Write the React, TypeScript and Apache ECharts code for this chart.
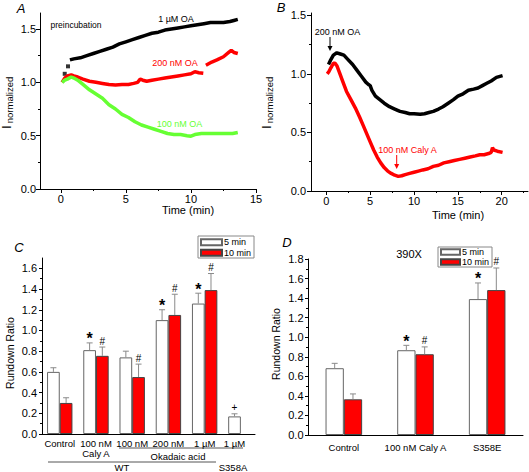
import React, { useEffect, useRef } from 'react';
import * as echarts from 'echarts';

// ---------- Panel A (I normalized vs time, preincubation) ----------
const a1uMOAStart: [number, number][] = [[0.3, 1.08], [0.55, 1.15]];
const a1uMOA: [number, number][] = [
  [0.7, 1.21], [1.0, 1.22], [1.5, 1.23], [2.0, 1.25], [2.5, 1.27], [3.0, 1.29], [3.5, 1.31],
  [4.0, 1.33], [4.5, 1.36], [5.0, 1.38], [5.5, 1.4], [6.0, 1.42], [6.5, 1.44], [7.0, 1.46],
  [7.5, 1.47], [8.0, 1.49], [8.5, 1.5], [9.0, 1.51], [9.5, 1.52], [10.0, 1.53], [10.5, 1.54],
  [11.0, 1.55], [11.5, 1.56], [12.0, 1.56], [12.5, 1.56], [13.0, 1.57], [13.3, 1.58], [13.6, 1.59],
];
const a200nMOA: any[] = [
  [0.1, 1.0], [0.3, 1.04], [0.5, 1.06], [0.8, 1.07], [1.0, 1.06], [1.3, 1.05], [1.7, 1.03],
  [2.2, 1.01], [2.7, 1.0], [3.2, 0.99], [3.7, 0.98], [4.2, 0.975], [4.7, 0.98], [5.2, 0.98],
  [5.6, 0.99], [5.9, 1.0], [6.1, 1.03], [6.3, 1.02], [6.6, 1.01], [7.0, 1.02], [7.5, 1.03],
  [8.0, 1.04], [8.5, 1.05], [9.0, 1.06], [9.5, 1.07], [10.0, 1.08], [10.3, 1.1], [10.6, 1.09],
  [10.95, 1.085], [11.05, '-'], [11.15, 1.16], [11.6, 1.19], [12.0, 1.21], [12.5, 1.24],
  [12.9, 1.28], [13.1, 1.3], [13.3, 1.28], [13.6, 1.27],
];
const a100nMOA: [number, number][] = [
  [0.1, 1.0], [0.3, 1.02], [0.5, 1.03], [0.8, 1.05], [1.0, 1.04], [1.3, 1.02], [1.7, 0.98],
  [2.2, 0.93], [2.7, 0.89], [3.2, 0.85], [3.7, 0.79], [4.2, 0.75], [4.7, 0.7], [5.2, 0.67],
  [5.7, 0.63], [6.2, 0.6], [6.7, 0.58], [7.2, 0.56], [7.7, 0.54], [8.2, 0.52], [8.7, 0.51],
  [9.2, 0.51], [9.7, 0.5], [10.0, 0.495], [10.3, 0.51], [10.8, 0.52], [11.3, 0.52], [11.8, 0.52],
  [12.3, 0.52], [12.8, 0.52], [13.2, 0.52], [13.6, 0.53],
];
const aXTicks = [0, 5, 10, 15];
const aXMinor = [2.5, 7.5, 12.5];
const aYTicks = [0, 0.5, 1.0, 1.5];
const aYMinor = [0.25, 0.75, 1.25];

// ---------- Panel B ----------
const b200nMOA: [number, number][] = [
  [0.25, 1.08], [0.5, 1.12], [0.8, 1.16], [1.2, 1.18], [1.6, 1.17], [2.0, 1.16], [2.5, 1.12],
  [3.0, 1.08], [3.5, 1.03], [4.0, 0.98], [4.5, 0.93], [4.8, 0.91], [5.0, 0.9], [5.2, 0.86],
  [5.6, 0.81], [6.1, 0.78], [6.6, 0.75], [7.2, 0.72], [7.8, 0.7], [8.4, 0.68], [9.0, 0.67],
  [9.5, 0.66], [10.0, 0.66], [10.7, 0.655], [11.2, 0.66], [11.7, 0.67], [12.2, 0.68], [12.8, 0.7],
  [13.3, 0.72], [13.9, 0.75], [14.5, 0.78], [15.0, 0.81], [15.6, 0.83], [16.2, 0.86], [16.8, 0.87],
  [17.3, 0.88], [17.8, 0.9], [18.3, 0.92], [18.8, 0.94], [19.4, 0.97], [20.1, 0.985],
];
const b100nMCalyA: [number, number][] = [
  [0.1, 1.0], [0.3, 1.02], [0.5, 1.05], [0.8, 1.09], [1.0, 1.09], [1.2, 1.07], [1.5, 1.01],
  [1.9, 0.93], [2.3, 0.85], [2.8, 0.78], [3.3, 0.71], [3.8, 0.63], [4.2, 0.56], [4.6, 0.49],
  [5.0, 0.42], [5.4, 0.35], [5.8, 0.29], [6.2, 0.24], [6.6, 0.2], [7.0, 0.17], [7.4, 0.15],
  [7.8, 0.135], [8.2, 0.125], [8.6, 0.13], [9.0, 0.14], [9.5, 0.15], [10.0, 0.16], [10.5, 0.17],
  [11.0, 0.18], [11.6, 0.19], [12.2, 0.21], [12.8, 0.22], [13.4, 0.24], [14.0, 0.25], [14.6, 0.26],
  [15.2, 0.27], [15.8, 0.28], [16.4, 0.29], [17.0, 0.3], [17.5, 0.31], [18.0, 0.31], [18.5, 0.32],
  [18.8, 0.33], [18.95, 0.37], [19.1, 0.35], [19.5, 0.34], [20.1, 0.33],
];
const bXTicks = [0, 5, 10, 15, 20];
const bXMinor = [2.5, 7.5, 12.5, 17.5, 22.5];
const bYTicks = [0, 0.5, 1.0, 1.5];
const bYMinor = [0.25, 0.75, 1.25];

// ---------- Panel C ----------
const cCategories = ['Control', '100 nM\nCaly A', '100 nM', '200 nM', '1 µM', '1 µM'];
const c5min: (number | null)[] = [0.6, 0.81, 0.74, 1.1, 1.26, 0.17];
const c5minSD: (number | null)[] = [0.04, 0.07, 0.06, 0.1, 0.1, 0.025];
const c5minSig = ['', '*', '', '*', '*', '+'];
const c10min: (number | null)[] = [0.3, 0.755, 0.55, 1.15, 1.39, null];
const c10minSD: (number | null)[] = [0.05, 0.085, 0.125, 0.2, 0.16, null];
const c10minSig = ['', '#', '#', '#', '#', ''];
const cYTicks = [0, 0.2, 0.4, 0.6, 0.8, 1.0, 1.2, 1.4, 1.6];
const cYMinor = [0.1, 0.3, 0.5, 0.7, 0.9, 1.1, 1.3, 1.5];

// ---------- Panel D ----------
const dCategories = ['Control', '100 nM Caly A', 'S358E'];
const d5min: (number | null)[] = [0.683, 0.867, 1.39];
const d5minSD: (number | null)[] = [0.05, 0.05, 0.165];
const d5minSig = ['', '*', '*'];
const d10min: (number | null)[] = [0.365, 0.826, 1.482];
const d10minSD: (number | null)[] = [0.055, 0.075, 0.226];
const d10minSig = ['', '#', '#'];
const dYTicks = [0, 0.2, 0.4, 0.6, 0.8, 1.0, 1.2, 1.4, 1.6, 1.8];
const dYMinor = [0.1, 0.3, 0.5, 0.7, 0.9, 1.1, 1.3, 1.5, 1.7];

const FONT = 'Liberation Sans';
const RED = '#ff0000';
const GREEN = '#66ff33';

const gridA = { left: 40, top: 13, width: 216, height: 176 };
const gridB = { left: 311, top: 13, width: 217, height: 178 };
const gridC = { left: 42, top: 258, width: 213, height: 176 };
const gridD = { left: 308, top: 259, width: 215, height: 176 };
const cXMin = -0.49, cXMax = 5.39;
const dXMin = -0.5, dXMax = 2.5;
const barWidthC = 12.7;
const barWidthD = 18.3;

function mainX(grid: number, min: number, max: number, ticks: number[], fmt: (v: number) => string) {
  return {
    type: 'value', gridIndex: grid, position: 'bottom', min, max,
    axisLine: { show: true, onZero: false, lineStyle: { color: '#000', width: 1 } },
    axisTick: { show: true, customValues: ticks, length: 4, lineStyle: { color: '#000' } },
    axisLabel: { show: true, customValues: ticks, formatter: fmt, fontSize: 11, color: '#000', margin: 4, fontFamily: FONT },
    splitLine: { show: false },
  };
}
function minorX(grid: number, min: number, max: number, ticks: number[]) {
  return {
    type: 'value', gridIndex: grid, position: 'bottom', min, max,
    axisLine: { show: false, onZero: false },
    axisTick: { show: true, customValues: ticks, length: 2, lineStyle: { color: '#000' } },
    axisLabel: { show: false }, splitLine: { show: false },
  };
}
function mainY(grid: number, min: number, max: number, ticks: number[], margin: number, len: number) {
  return {
    type: 'value', gridIndex: grid, position: 'left', min, max,
    axisLine: { show: true, onZero: false, lineStyle: { color: '#000', width: 1 } },
    axisTick: { show: true, customValues: ticks, length: len, lineStyle: { color: '#000' } },
    axisLabel: { show: true, customValues: ticks, formatter: (v: number) => v.toFixed(1), fontSize: 11, color: '#000', margin, fontFamily: FONT },
    splitLine: { show: false },
  };
}
function minorY(grid: number, min: number, max: number, ticks: number[]) {
  return {
    type: 'value', gridIndex: grid, position: 'left', min, max,
    axisLine: { show: false, onZero: false },
    axisTick: { show: true, customValues: ticks, length: 2, lineStyle: { color: '#000' } },
    axisLabel: { show: false }, splitLine: { show: false },
  };
}

function errorSeries(xIdx: number, yIdx: number, vals: (number | null)[], sds: (number | null)[], sig: string[], off: number) {
  const rows: number[][] = [];
  vals.forEach((v, i) => {
    if (v != null && sds[i] != null) rows.push([i + off, v, v + (sds[i] as number), i]);
  });
  return {
    type: 'custom', xAxisIndex: xIdx, yAxisIndex: yIdx, z: 5, silent: true,
    data: rows,
    renderItem: (_p: any, api: any) => {
      const x = api.value(0), v = api.value(1), t = api.value(2), idx = api.value(3);
      const p0 = api.coord([x, v]);
      const p1 = api.coord([x, t]);
      const children: any[] = [
        { type: 'line', shape: { x1: p0[0], y1: p0[1], x2: p1[0], y2: p1[1] }, style: { stroke: '#8a8a8a', lineWidth: 1 } },
        { type: 'line', shape: { x1: p1[0] - 3, y1: p1[1], x2: p1[0] + 3, y2: p1[1] }, style: { stroke: '#8a8a8a', lineWidth: 1 } },
      ];
      const s = sig[idx];
      if (s) {
        const star = s === '*';
        children.push({
          type: 'text', x: p1[0], y: star ? p1[1] + 4 : p1[1] - 1,
          style: { text: s, fill: '#000', fontFamily: FONT, fontSize: star ? 16 : 10, fontWeight: star ? 'bold' : 'normal', align: 'center', verticalAlign: 'bottom' },
        });
      }
      return { type: 'group', children };
    },
  };
}

function txt(text: string, x: number, y: number, o: any = {}) {
  return {
    type: 'text', x, y, rotation: o.rot || 0, silent: true,
    style: {
      text, fill: o.fill || '#000', fontFamily: FONT, fontSize: o.fs || 11,
      fontStyle: o.italic ? 'italic' : 'normal', fontWeight: o.bold ? 'bold' : 'normal',
      align: o.align || 'center', verticalAlign: 'middle',
    },
  };
}
function ln(x1: number, y1: number, x2: number, y2: number, stroke = '#000') {
  return { type: 'line', silent: true, shape: { x1, y1, x2, y2 }, style: { stroke, lineWidth: 1 } };
}
function head(x: number, y: number, fill = '#000') {
  return { type: 'polygon', silent: true, shape: { points: [[x - 2.5, y - 5], [x + 2.5, y - 5], [x, y]] }, style: { fill } };
}

export default function App() {
  const ref = useRef<HTMLDivElement>(null);
  useEffect(() => {
    if (!ref.current) return;
    const chart = echarts.init(ref.current, undefined, { renderer: 'svg' });
    const offC = (barWidthC / 2) / (gridC.width / (cXMax - cXMin));
    const offD = (barWidthD / 2) / (gridD.width / (dXMax - dXMin));
    const barData = (vals: (number | null)[], off: number) =>
      vals.map((v, i) => (v == null ? null : [i + off, v])).filter((d) => d != null);
    // S358A has only a 5-min bar, so its label sits under that bar
    const cLabelPos = cCategories.map((_, i) => (c10min[i] == null ? i - offC : i));

    const option: any = {
      animation: false,
      backgroundColor: '#fff',
      textStyle: { fontFamily: FONT },
      grid: [gridA, gridB, gridC, gridD].map((g) => ({ ...g, containLabel: false, outerBoundsMode: 'none' })),
      xAxis: [
        mainX(0, -1.6, 15, aXTicks, (v) => String(v)),
        minorX(0, -1.6, 15, aXMinor),
        mainX(1, -1.75, 23, bXTicks, (v) => String(v)),
        minorX(1, -1.75, 23, bXMinor),
        {
          type: 'value', gridIndex: 2, position: 'bottom', min: cXMin, max: cXMax,
          axisLine: { show: true, onZero: false, lineStyle: { color: '#000', width: 1 } },
          axisTick: { show: false },
          axisLabel: { show: true, customValues: cLabelPos, formatter: (v: number) => cCategories[Math.round(v)], fontSize: 9.5, lineHeight: 10.5, color: '#000', margin: 4, fontFamily: FONT },
          splitLine: { show: false },
        },
        {
          type: 'value', gridIndex: 3, position: 'bottom', min: dXMin, max: dXMax,
          axisLine: { show: true, onZero: false, lineStyle: { color: '#000', width: 1 } },
          axisTick: { show: false },
          axisLabel: { show: true, customValues: [0, 1, 2], formatter: (v: number) => dCategories[Math.round(v)], fontSize: 9.5, color: '#000', margin: 7, fontFamily: FONT },
          splitLine: { show: false },
        },
      ],
      yAxis: [
        mainY(0, 0, 1.65, aYTicks, 4, 4),
        minorY(0, 0, 1.65, aYMinor),
        mainY(1, 0, 1.52, bYTicks, 5, 4),
        minorY(1, 0, 1.52, bYMinor),
        mainY(2, 0, 1.7, cYTicks, 5, 3),
        minorY(2, 0, 1.7, cYMinor),
        mainY(3, 0, 1.8, dYTicks, 4.5, 3),
        minorY(3, 0, 1.8, dYMinor),
      ],
      legend: [
        {
          data: ['5 min', '10 min'], orient: 'vertical', left: 198, top: 236, icon: 'rect',
          itemWidth: 21, itemHeight: 6, itemGap: 0, padding: [1, 3, 0, 2],
          borderColor: '#888', borderWidth: 1, selectedMode: false,
          textStyle: { fontSize: 9, lineHeight: 10.5, color: '#000', fontFamily: FONT, padding: [0, 0, 0, -3] },
        },
        {
          data: ['5 min', '10 min'], orient: 'vertical', left: 438, top: 247, icon: 'rect',
          itemWidth: 19, itemHeight: 5.5, itemGap: 0, padding: [0, 3, 0, 2],
          borderColor: '#888', borderWidth: 1, selectedMode: false,
          textStyle: { fontSize: 9, lineHeight: 10, color: '#000', fontFamily: FONT, padding: [0, 0, 0, -3] },
        },
      ],
      series: [
        { name: '1 µM OA', type: 'line', xAxisIndex: 0, yAxisIndex: 0, data: a1uMOA, symbol: 'none', lineStyle: { color: '#000', width: 3.5 }, itemStyle: { color: '#000' } },
        { name: '1 µM OA start', type: 'scatter', xAxisIndex: 0, yAxisIndex: 0, data: a1uMOAStart, symbol: 'rect', symbolSize: 4, itemStyle: { color: '#000' } },
        { name: '200 nM OA', type: 'line', xAxisIndex: 0, yAxisIndex: 0, data: a200nMOA, connectNulls: false, symbol: 'none', lineStyle: { color: RED, width: 3.5 }, itemStyle: { color: RED } },
        { name: '100 nM OA', type: 'line', xAxisIndex: 0, yAxisIndex: 0, data: a100nMOA, symbol: 'none', lineStyle: { color: GREEN, width: 3.5 }, itemStyle: { color: GREEN } },
        { name: '200 nM OA B', type: 'line', xAxisIndex: 2, yAxisIndex: 2, data: b200nMOA, symbol: 'none', lineStyle: { color: '#000', width: 3.5 }, itemStyle: { color: '#000' } },
        { name: '100 nM Caly A', type: 'line', xAxisIndex: 2, yAxisIndex: 2, data: b100nMCalyA, symbol: 'none', lineStyle: { color: RED, width: 3.5 }, itemStyle: { color: RED } },

        { name: '5 min', type: 'bar', xAxisIndex: 4, yAxisIndex: 4, data: barData(c5min, -offC), barWidth: barWidthC, barGap: '-100%', itemStyle: { color: '#fff', borderColor: '#666', borderWidth: 1 } },
        { name: '10 min', type: 'bar', xAxisIndex: 4, yAxisIndex: 4, data: barData(c10min, offC), barWidth: barWidthC, barGap: '-100%', itemStyle: { color: RED, borderColor: '#444', borderWidth: 1 } },
        errorSeries(4, 4, c5min, c5minSD, c5minSig, -offC),
        errorSeries(4, 4, c10min, c10minSD, c10minSig, offC),

        { name: '5 min', type: 'bar', xAxisIndex: 5, yAxisIndex: 6, data: barData(d5min, -offD), barWidth: barWidthD, barGap: '-100%', itemStyle: { color: '#fff', borderColor: '#666', borderWidth: 1 } },
        { name: '10 min', type: 'bar', xAxisIndex: 5, yAxisIndex: 6, data: barData(d10min, offD), barWidth: barWidthD, barGap: '-100%', itemStyle: { color: RED, borderColor: '#444', borderWidth: 1 } },
        errorSeries(5, 6, d5min, d5minSD, d5minSig, -offD),
        errorSeries(5, 6, d10min, d10minSD, d10minSig, offD),
      ],
      graphic: {
        elements: [
          txt('A', 21, 8, { fs: 13, italic: true }),
          txt('B', 281, 7, { fs: 13, italic: true }),
          txt('C', 19, 247, { fs: 13, italic: true }),
          txt('D', 287, 242, { fs: 13, italic: true }),
          txt('I', 6.7, 127, { fs: 12, rot: Math.PI / 2 }),
          txt('normalized', 9.7, 100, { fs: 9.5, rot: Math.PI / 2 }),
          txt('I', 266.5, 127, { fs: 12, rot: Math.PI / 2 }),
          txt('normalized', 269.7, 100, { fs: 9.5, rot: Math.PI / 2 }),
          txt('Time (min)', 188, 210, { fs: 11 }),
          txt('Time (min)', 458, 215, { fs: 11 }),
          txt('preincubation', 76, 24.5, { fs: 8.5 }),
          txt('1 µM OA', 176, 19, { fs: 9 }),
          txt('200 nM OA', 175, 62.7, { fs: 9, fill: RED }),
          txt('100 nM OA', 179.5, 124, { fs: 9, fill: GREEN }),
          txt('200 nM OA', 337.5, 31.7, { fs: 9 }),
          ln(330, 37, 330, 47),
          head(330, 51),
          txt('100 nM Caly A', 407.5, 150, { fs: 9, fill: RED }),
          ln(396.7, 155, 396.7, 165, RED),
          head(396.7, 169, RED),
          txt('Rundown Ratio', 10, 353, { fs: 10.5, rot: Math.PI / 2 }),
          txt('Rundown Ratio', 275.7, 344, { fs: 10.5, rot: Math.PI / 2 }),
          ln(119, 448, 243, 448, '#555'),
          ln(48, 462, 216, 462, '#555'),
          txt('Okadaic acid', 178, 456, { fs: 9.5 }),
          txt('WT', 122, 467, { fs: 9.5 }),
          txt('S358A', 233, 467, { fs: 9.5 }),
          txt('390X', 409, 254, { fs: 11 }),
        ],
      },
    };
    chart.setOption(option);
    return () => chart.dispose();
  }, []);
  return (
    <div
      ref={ref}
      style={{ position: 'absolute', left: 0, top: 0, width: 529, height: 472, background: '#fff' }}
    />
  );
}
